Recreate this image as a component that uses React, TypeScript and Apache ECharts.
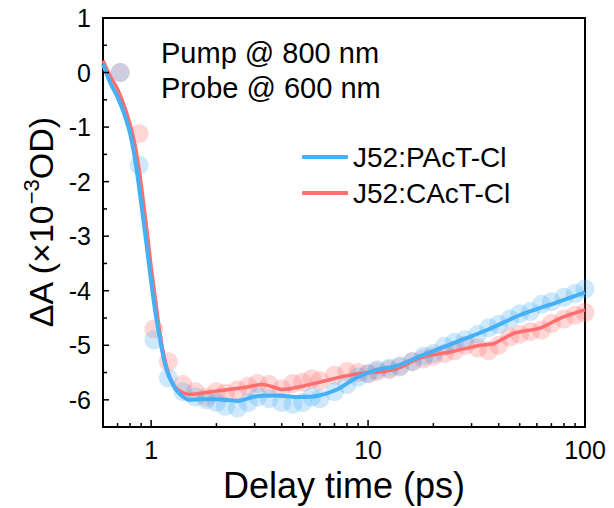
import React, { useEffect, useRef } from "react";
import * as echarts from "echarts";

const FONT = "'Liberation Sans', Arial, Helvetica, sans-serif";

const seriesNames = ["J52:PAcT-Cl", "J52:CAcT-Cl"];

// scatter (measured) delays, ps
const scatterX = [0.72, 0.88, 1.03, 1.2, 1.4, 1.6, 1.8, 2.0, 2.2, 2.5, 2.8, 3.1, 3.5, 4.0, 4.5, 5.0, 5.5, 6.0, 7.0, 8.0, 9.0, 10, 11, 12.5, 14, 16, 18, 20, 22.5, 25, 28, 32, 36, 40, 45, 50, 56, 63, 70, 80, 90, 100];
const blueScatterY = [0.0, -1.7, -4.9, -5.6, -5.85, -5.95, -6.0, -6.05, -6.12, -6.15, -6.05, -5.95, -5.98, -6.05, -6.08, -6.05, -5.95, -5.98, -5.85, -5.72, -5.58, -5.52, -5.45, -5.42, -5.38, -5.3, -5.2, -5.15, -5.02, -4.95, -4.9, -4.8, -4.68, -4.62, -4.52, -4.42, -4.38, -4.25, -4.2, -4.12, -4.05, -3.97];
const redScatterY = [0.0, -1.12, -4.7, -5.3, -5.72, -5.85, -5.95, -5.85, -5.88, -5.82, -5.75, -5.7, -5.72, -5.8, -5.7, -5.68, -5.62, -5.65, -5.55, -5.48, -5.5, -5.52, -5.48, -5.45, -5.4, -5.3, -5.25, -5.2, -5.15, -5.1, -5.0, -5.05, -5.1, -5.0, -4.85, -4.8, -4.75, -4.72, -4.6, -4.52, -4.45, -4.4];

// fitted curves
const blueFitX = [0.6, 0.65, 0.7, 0.75, 0.8, 0.85, 0.9, 0.95, 1.0, 1.05, 1.1, 1.15, 1.2, 1.25, 1.3, 1.4, 1.5, 1.7, 2.0, 2.5, 3.0, 3.8, 4.7, 5.8, 7.2, 8.8, 10.9, 13.5, 17.4, 24.8, 35.4, 50.5, 72, 100];
const blueFitY = [0.15, -0.2, -0.45, -0.75, -1.12, -1.68, -2.4, -3.12, -3.83, -4.44, -4.9, -5.29, -5.54, -5.69, -5.81, -5.94, -6.0, -5.99, -5.99, -6.02, -5.94, -5.92, -5.95, -5.93, -5.81, -5.6, -5.45, -5.38, -5.2, -4.96, -4.72, -4.44, -4.23, -4.03];
const redFitX = [0.6, 0.65, 0.7, 0.75, 0.8, 0.85, 0.9, 0.95, 1.0, 1.05, 1.1, 1.15, 1.2, 1.25, 1.3, 1.4, 1.5, 1.7, 2.0, 2.64, 3.27, 4.05, 5.0, 6.2, 7.7, 9.5, 11.8, 13.8, 17.4, 24.8, 33, 38, 47, 62.5, 77, 100];
const redFitY = [0.22, -0.08, -0.3, -0.6, -0.95, -1.4, -2.05, -2.8, -3.55, -4.2, -4.8, -5.22, -5.5, -5.68, -5.78, -5.87, -5.9, -5.88, -5.84, -5.78, -5.72, -5.81, -5.75, -5.66, -5.57, -5.51, -5.48, -5.42, -5.23, -5.11, -5.0, -4.97, -4.78, -4.68, -4.5, -4.35];

// axis ranges and ticks
const xMin = 0.6;
const xMax = 100;
const yMin = -6.5;
const yMax = 1;
const xMajorTicks = [1, 10];
const xMinorTicks = [0.7, 0.8, 0.9, 2, 3, 4, 5, 6, 7, 8, 9, 20, 30, 40, 50, 60, 70, 80, 90];
const yMajorTicks = [-6, -5, -4, -3, -2, -1, 0];
const yMinorTicks = [-6.5, -5.5, -4.5, -3.5, -2.5, -1.5, -0.5, 0.5];

const annotations = ["Pump @ 800 nm", "Probe @ 600 nm"];

const BLUE = "#45B0F5";
const RED = "#FF6E6E";

function xTickSeries(values: number[], len: number) {
  return {
    type: "custom",
    coordinateSystem: "cartesian2d",
    silent: true,
    clip: false,
    z: 10,
    data: values.map((v) => [v, yMin]),
    renderItem: (params: any, api: any) => {
      const p = api.coord([api.value(0), yMin]);
      return {
        type: "line",
        shape: { x1: p[0], y1: p[1], x2: p[0], y2: p[1] - len },
        style: { stroke: "#000", lineWidth: 1.5 },
      };
    },
  };
}

function yTickSeries(values: number[], len: number) {
  return {
    type: "custom",
    coordinateSystem: "cartesian2d",
    silent: true,
    clip: false,
    z: 10,
    data: values.map((v) => [xMin, v]),
    renderItem: (params: any, api: any) => {
      const p = api.coord([xMin, api.value(1)]);
      return {
        type: "line",
        shape: { x1: p[0], y1: p[1], x2: p[0] + len, y2: p[1] },
        style: { stroke: "#000", lineWidth: 1.5 },
      };
    },
  };
}

export default function App() {
  const ref = useRef<HTMLDivElement>(null);
  useEffect(() => {
    if (!ref.current) return;
    const chart = echarts.init(ref.current, undefined, { renderer: "svg" });
    const option: any = {
      animation: false,
      backgroundColor: "#fff",
      grid: {
        left: 103,
        right: 29,
        top: 18,
        bottom: 79,
        show: true,
        borderColor: "#000",
        borderWidth: 2,
        backgroundColor: "transparent",
      },
      legend: {
        data: seriesNames,
        orient: "vertical",
        left: 297,
        top: 138,
        itemWidth: 46,
        itemHeight: 4,
        itemGap: 8,
        icon: "roundRect",
        textStyle: { fontSize: 28, fontFamily: FONT, color: "#000" },
      },
      xAxis: {
        type: "log",
        logBase: 10,
        min: xMin,
        max: xMax,
        name: "Delay time (ps)",
        nameLocation: "middle",
        nameGap: 35,
        nameTextStyle: { fontSize: 36, fontFamily: FONT, color: "#000" },
        axisLine: { show: true, onZero: false, lineStyle: { color: "#000", width: 2 } },
        axisTick: { show: false },
        splitLine: { show: false },
        minorTick: { show: false },
        axisLabel: {
          showMinLabel: false,
          margin: 10,
          fontSize: 25,
          fontFamily: FONT,
          color: "#000",
          formatter: (v: number) => String(Math.round(v * 1000) / 1000),
        },
      },
      yAxis: {
        type: "value",
        min: yMin,
        max: yMax,
        interval: 0.5,
        name: "{a|ΔA (×10}{s|−3}{a|OD)}",
        nameLocation: "middle",
        nameRotate: 90,
        nameGap: 36,
        nameTextStyle: {
          rich: {
            a: { fontSize: 34, fontFamily: FONT, color: "#000" },
            s: { fontSize: 22, fontFamily: FONT, color: "#000", padding: [0, 0, 18, 0] },
          },
        },
        axisLine: { show: true, onZero: false, lineStyle: { color: "#000", width: 2 } },
        axisTick: { show: false },
        splitLine: { show: false },
        axisLabel: {
          margin: 12,
          fontSize: 25,
          fontFamily: FONT,
          color: "#000",
          formatter: (v: number) => (Math.abs(v - Math.round(v)) < 1e-9 ? String(Math.round(v)) : ""),
        },
      },
      graphic: annotations.map((t, i) => ({
        type: "text",
        left: 161,
        top: 52 + i * 35 - 14,
        style: {
          text: t,
          font: `29px ${FONT}`,
          fill: "#000",
        },
      })),
      series: [
        {
          type: "scatter",
          name: "red-points",
          data: scatterX.map((x, i) => [x, redScatterY[i]]),
          symbolSize: 19,
          itemStyle: { color: "rgba(255,110,110,0.35)" },
          silent: true,
          z: 2,
        },
        {
          type: "scatter",
          name: "blue-points",
          data: scatterX.map((x, i) => [x, blueScatterY[i]]),
          symbolSize: 19,
          itemStyle: { color: "rgba(80,175,245,0.35)" },
          silent: true,
          z: 2,
        },
        {
          type: "line",
          name: seriesNames[1],
          data: redFitX.map((x, i) => [x, redFitY[i]]),
          showSymbol: false,
          symbol: "none",
          smooth: 0.3,
          color: RED,
          lineStyle: { color: RED, width: 3.5 },
          z: 3,
        },
        {
          type: "line",
          name: seriesNames[0],
          data: blueFitX.map((x, i) => [x, blueFitY[i]]),
          showSymbol: false,
          symbol: "none",
          smooth: 0.3,
          color: BLUE,
          lineStyle: { color: BLUE, width: 4 },
          z: 4,
        },
        xTickSeries(xMajorTicks, 7),
        xTickSeries(xMinorTicks, 4),
        yTickSeries(yMajorTicks, 6),
        yTickSeries(yMinorTicks, 4),
      ],
    };
    chart.setOption(option);
    return () => chart.dispose();
  }, []);
  return (
    <div
      ref={ref}
      style={{ position: "absolute", left: 0, top: 0, width: 614, height: 508 }}
    />
  );
}
